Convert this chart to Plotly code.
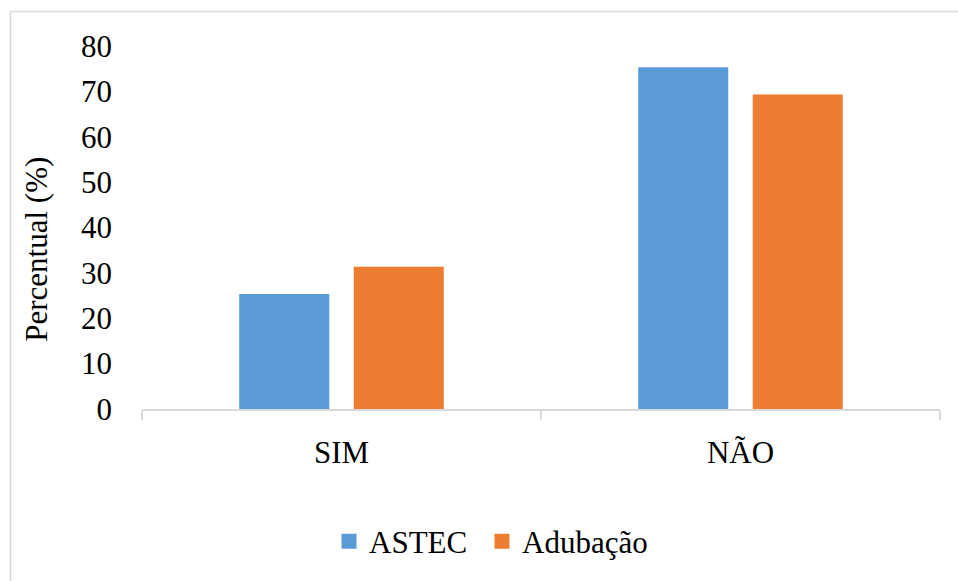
import plotly.graph_objects as go

categories = ["SIM", "NÃO"]
astec = [25, 75]
adubacao = [31, 69]
y_ticks = [0, 10, 20, 30, 40, 50, 60, 70, 80]

W, H = 958, 581
L, R, T, B = 142, 18, 46, 168
pw, ph = W - L - R, H - T - B

def px_x(p):
    return (p - L) / pw

def px_y(p):
    return (H - B - p) / ph

FONT = "Liberation Serif"
BLUE, ORANGE = "#5B9BD5", "#ED7D31"

fig = go.Figure()
fig.add_trace(go.Bar(name="ASTEC", x=categories, y=astec, legend="legend",
                     marker=dict(color=BLUE, line=dict(width=3, color=BLUE))))
fig.add_trace(go.Bar(name="Adubação", x=categories, y=adubacao, legend="legend2",
                     marker=dict(color=ORANGE, line=dict(width=3, color=ORANGE))))

leg_common = dict(orientation="h", yanchor="middle", xanchor="left",
                  font=dict(family=FONT, size=31, color="black"), itemwidth=30,
                  bgcolor="rgba(0,0,0,0)")

fig.update_layout(
    width=W, height=H,
    margin=dict(l=L, r=R, t=T, b=B, pad=0),
    paper_bgcolor="white", plot_bgcolor="white",
    barmode="group", bargap=0.426, bargroupgap=0.24,
    font=dict(family=FONT, size=31, color="black"),
    showlegend=True,
    legend=dict(x=px_x(329), y=px_y(547), **leg_common),
    legend2=dict(x=px_x(482), y=px_y(547), **leg_common),
    xaxis=dict(showgrid=False, showline=True, linecolor="#d9d9d9", linewidth=1.5,
               ticks="outside", tickson="boundaries", ticklen=9, tickcolor="#d9d9d9", tickwidth=1.5,
               ticklabelstandoff=15,
               tickfont=dict(family=FONT, size=31, color="black"), zeroline=False),
    yaxis=dict(range=[0, 80], tickvals=y_ticks, showgrid=False, showline=False, zeroline=False,
               ticks="", ticklabelstandoff=29,
               tickfont=dict(family=FONT, size=31, color="black")),
    annotations=[dict(text="Percentual (%)", textangle=-90, xref="paper", yref="paper",
                      x=px_x(37), y=px_y(252), xanchor="center", yanchor="middle",
                      showarrow=False, font=dict(family=FONT, size=31, color="black"))],
    shapes=[dict(type="rect", xref="paper", yref="paper",
                 x0=px_x(10.5), y0=px_y(600), x1=px_x(1000), y1=px_y(11),
                 line=dict(color="#d9d9d9", width=1.5), fillcolor="rgba(0,0,0,0)", layer="below")],
)

fig.write_html("out.html")
